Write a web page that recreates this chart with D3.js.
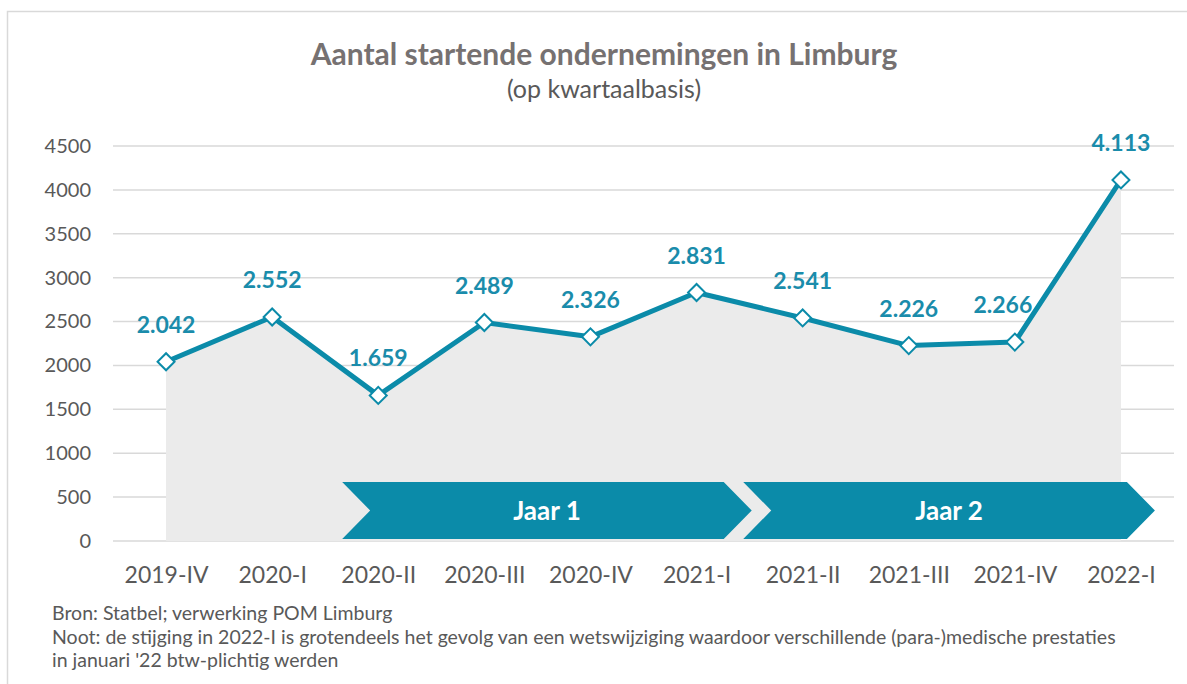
<!DOCTYPE html>
<html>
<head>
<meta charset="utf-8">
<script src="https://cdn.jsdelivr.net/npm/d3@7"></script>
<style>
    body { margin: 0; background: #fff; }
    svg { display: block; font-family: Lato, "Open Sans", sans-serif; }
</style>
</head>
<body>
<div id="chart"></div>
<script>
// Data
var quarters = ['2019-IV', '2020-I', '2020-II', '2020-III', '2020-IV', '2021-I', '2021-II', '2021-III', '2021-IV', '2022-I'];
var starters = [2042, 2552, 1659, 2489, 2326, 2831, 2541, 2226, 2266, 4113];
var yTicks = [0, 500, 1000, 1500, 2000, 2500, 3000, 3500, 4000, 4500];
var periodNames = ['Jaar 1', 'Jaar 2'];
var periodFrom = ['2020-II', '2021-II'];
var periodTo = ['2021-I', '2022-I'];

var W = 1187, H = 684;
var margin = { top: 146, right: 13, bottom: 143, left: 113 };
var width = W - margin.left - margin.right;
var height = H - margin.top - margin.bottom;
var teal = '#0b8ba9';

var svg = d3.select('#chart')
    .append('svg')
    .attr('width', W)
    .attr('height', H);

// Outer frame
svg.append('rect')
    .attr('x', 7.5).attr('y', 11.5)
    .attr('width', W).attr('height', H)
    .attr('fill', 'none')
    .attr('stroke', '#d9d9d9')
    .attr('stroke-width', 1.5);

// Titles
svg.append('text')
    .attr('x', 604).attr('y', 65)
    .attr('text-anchor', 'middle')
    .attr('font-size', 30).attr('font-weight', 'bold')
    .attr('fill', '#767171')
    .text('Aantal startende ondernemingen in Limburg');
svg.append('text')
    .attr('x', 604).attr('y', 98)
    .attr('text-anchor', 'middle')
    .attr('font-size', 25)
    .attr('fill', '#595959')
    .text('(op kwartaalbasis)');

var g = svg.append('g')
    .attr('transform', `translate(${margin.left},${margin.top})`);

var x = d3.scalePoint()
    .domain(quarters)
    .range([0, width])
    .padding(0.5);
var step = x.step();

var y = d3.scaleLinear()
    .domain([0, 4500])
    .range([height, 0]);

// Gridlines
g.selectAll('.grid')
    .data(yTicks)
    .enter()
    .append('line')
    .attr('x1', 0).attr('x2', width)
    .attr('y1', d => y(d)).attr('y2', d => y(d))
    .attr('stroke', '#d9d9d9')
    .attr('stroke-width', 1.5);

// Y axis labels
g.append('g')
    .call(d3.axisLeft(y).tickValues(yTicks).tickSize(0).tickPadding(22).tickFormat(d3.format('d')))
    .call(a => a.select('.domain').remove())
    .selectAll('text')
    .attr('font-family', 'Lato, "Open Sans", sans-serif')
    .attr('font-size', 20)
    .attr('fill', '#595959');

// X axis labels
g.append('g')
    .attr('transform', `translate(0,${height})`)
    .call(d3.axisBottom(x).tickSize(0).tickPadding(26))
    .call(a => a.select('.domain').remove())
    .selectAll('text')
    .attr('font-family', 'Lato, "Open Sans", sans-serif')
    .attr('font-size', 23)
    .attr('fill', '#595959');

var points = quarters.map((q, i) => ({ q: q, v: starters[i] }));

// Area fill
var area = d3.area()
    .x(d => x(d.q))
    .y0(y(0))
    .y1(d => y(d.v));
g.append('path')
    .datum(points)
    .attr('fill', '#ebebeb')
    .attr('d', area);

// Period chevrons
var ah = 57, depth = 28;
periodNames.forEach(function(name, i) {
    var x0 = x(periodFrom[i]) - step * (i === 0 ? 0.34 : 0.56);
    var x1 = x(periodTo[i]) + step * (i === 0 ? 0.52 : 0.32);
    var yb = y(0) - 2, yt = yb - ah, ym = yb - ah / 2;
    var pts = [[x0, yt], [x1 - depth, yt], [x1, ym], [x1 - depth, yb], [x0, yb], [x0 + depth, ym]];
    g.append('path')
        .attr('d', d3.line()(pts) + 'Z')
        .attr('fill', teal);
    g.append('text')
        .attr('x', (x0 + x1) / 2)
        .attr('y', ym)
        .attr('dy', '0.35em')
        .attr('text-anchor', 'middle')
        .attr('font-size', 26).attr('font-weight', 'bold')
        .attr('fill', '#fff')
        .text(name);
});

// Line
g.append('path')
    .datum(points)
    .attr('fill', 'none')
    .attr('stroke', teal)
    .attr('stroke-width', 5)
    .attr('stroke-linejoin', 'round')
    .attr('d', d3.line().x(d => x(d.q)).y(d => y(d.v)));

// Markers
g.selectAll('.marker')
    .data(points)
    .enter()
    .append('path')
    .attr('class', 'marker')
    .attr('transform', d => `translate(${x(d.q)},${y(d.v)}) rotate(45)`)
    .attr('d', 'M-6,-6H6V6H-6Z')
    .attr('fill', '#fff')
    .attr('stroke', teal)
    .attr('stroke-width', 2);

// Value labels (the 2021-IV one is nudged left, clear of the steep segment)
var fmt = v => d3.format(',')(v).replace(',', '.');
g.selectAll('.value-label')
    .data(points)
    .enter()
    .append('text')
    .attr('class', 'value-label')
    .attr('x', d => x(d.q) + (d.q === '2021-IV' ? -12 : 0))
    .attr('y', d => y(d.v) - 37)
    .attr('dy', '0.35em')
    .attr('text-anchor', 'middle')
    .attr('font-size', 23).attr('font-weight', 'bold')
    .attr('fill', '#1a8cab')
    .text(d => fmt(d.v));

// Footnotes
var notes = [
    'Bron: Statbel; verwerking POM Limburg',
    'Noot: de stijging in 2022-I is grotendeels het gevolg van een wetswijziging waardoor verschillende (para-)medische prestaties',
    "in januari '22 btw-plichtig werden"
];
svg.selectAll('.note')
    .data(notes)
    .enter()
    .append('text')
    .attr('x', 52)
    .attr('y', (d, i) => 620 + i * 23.5)
    .attr('font-size', 19.5)
    .attr('fill', '#595959')
    .text(d => d);
</script>
</body>
</html>
